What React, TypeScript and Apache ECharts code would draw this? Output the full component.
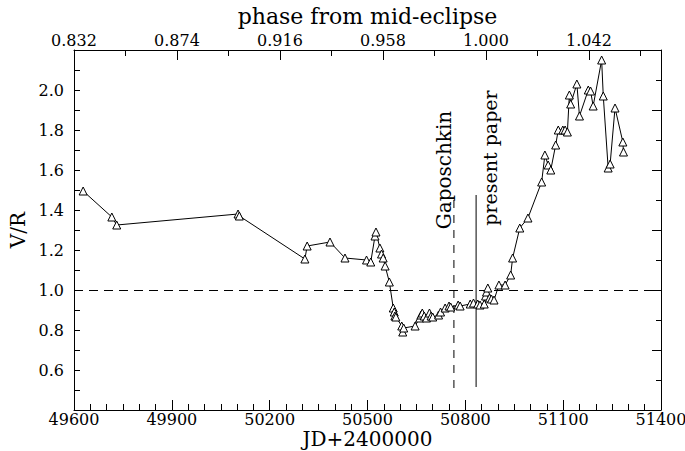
import React, { useEffect, useRef } from "react";
import * as echarts from "echarts";

// Julian dates (JD - 2400000) and V/R values
const jd: number[] = [
  49628, 49716, 49731, 50103, 50107, 50308, 50315, 50385, 50431, 50497,
  50510, 50523, 50526, 50538, 50543, 50548, 50554, 50567, 50579, 50582,
  50584, 50587, 50605, 50608, 50611, 50646, 50660, 50664, 50668, 50674,
  50681, 50690, 50695, 50700, 50718, 50724, 50738, 50750, 50755, 50778,
  50784, 50815, 50825, 50838, 50845, 50858, 50862, 50865, 50869, 50874,
  50880, 50888, 50903, 50922, 50939, 50945, 50967, 50992, 51034, 51044,
  51054, 51062, 51077, 51085, 51099, 51106, 51113, 51119, 51123, 51142,
  51150, 51177, 51184, 51192, 51218, 51223, 51238, 51244, 51259, 51283,
  51285,
];
const vr: number[] = [
  1.495, 1.365, 1.325, 1.38, 1.37, 1.155, 1.22, 1.24, 1.16, 1.15,
  1.14, 1.27, 1.29, 1.21, 1.18, 1.16, 1.12, 1.04, 0.91, 0.89,
  0.87, 0.865, 0.82, 0.79, 0.81, 0.82, 0.86, 0.875, 0.885, 0.87,
  0.86, 0.885, 0.87, 0.865, 0.875, 0.89, 0.91, 0.92, 0.915, 0.925,
  0.92, 0.93, 0.935, 0.93, 0.925, 0.93, 0.97, 0.99, 1.01, 0.96,
  0.955, 0.95, 1.025, 1.025, 1.075, 1.16, 1.31, 1.36, 1.54, 1.675,
  1.625, 1.6, 1.725, 1.8, 1.8, 1.8, 1.79, 1.975, 1.93, 2.03,
  1.87, 2.0, 1.995, 1.92, 2.15, 1.97, 1.61, 1.63, 1.91, 1.74,
  1.69,
];

// reference markers
const referenceLevel = [1.0];
const gaposchkinJD = [50765, 50765];
const gaposchkinVR = [0.51, 1.475];
const presentJD = [50833, 50833];
const presentVR = [0.515, 1.475];

// axes
const jdMin = 49600, jdMax = 51400, jdStep = 300;
const phaseMin = 0.832, phaseMax = 1.07136, phaseStep = 0.042;
const vrMin = 0.4, vrMax = 2.2;

const FONT = "DejaVu Serif";

export default function App() {
  const ref = useRef<HTMLDivElement>(null);
  useEffect(() => {
    if (!ref.current) return;
    const chart = echarts.init(ref.current, null, { renderer: "svg" });
    const black = "#000";
    const baseAxis = {
      splitLine: { show: false },
      axisLine: { show: true, lineStyle: { color: black, width: 1 } },
    };
    chart.setOption({
      animation: false,
      backgroundColor: "#fff",
      grid: {
        left: 74,
        right: 24,
        top: 50,
        bottom: 41,
        containLabel: false,
        outerBoundsMode: "none",
      },
      xAxis: [
        {
          ...baseAxis,
          type: "value",
          position: "bottom",
          min: jdMin,
          max: jdMax,
          interval: jdStep,
          axisTick: { show: true, inside: true, length: 10, lineStyle: { color: black } },
          minorTick: { show: true, splitNumber: 6, length: 6, lineStyle: { color: black } },
          minorSplitLine: { show: false },
          axisLabel: {
            color: black,
            fontFamily: FONT,
            fontSize: 16,
            lineHeight: 15,
            margin: 2,
            formatter: (v: number) => String(Math.round(v)),
          },
          name: "JD+2400000",
          nameLocation: "middle",
          nameGap: 19,
          nameMoveOverlap: false,
          nameTextStyle: { color: black, fontFamily: FONT, fontSize: 20, lineHeight: 20 },
        },
        {
          ...baseAxis,
          type: "value",
          position: "top",
          min: phaseMin,
          max: phaseMax,
          interval: phaseStep,
          axisTick: { show: true, inside: true, length: 10, lineStyle: { color: black } },
          minorTick: { show: true, splitNumber: 2, length: 6, lineStyle: { color: black } },
          axisLabel: {
            color: black,
            fontFamily: FONT,
            fontSize: 16,
            margin: 2,
            formatter: (v: number) => {
              const k = (v - phaseMin) / phaseStep;
              if (Math.abs(k - Math.round(k)) > 1e-6) return "";
              return v.toFixed(3);
            },
          },
          name: "phase from mid-eclipse",
          nameLocation: "middle",
          nameGap: 21,
          nameTextStyle: { color: black, fontFamily: FONT, fontSize: 22 },
        },
      ],
      yAxis: [
        {
          ...baseAxis,
          type: "value",
          position: "left",
          min: vrMin,
          max: vrMax,
          interval: 0.2,
          axisTick: { show: true, inside: true, length: 6, lineStyle: { color: black } },
          minorTick: { show: true, splitNumber: 2, length: 6, lineStyle: { color: black } },
          axisLabel: {
            color: black,
            fontFamily: FONT,
            fontSize: 16,
            margin: 10,
            formatter: (v: number) => (v < 0.5 || v > 2.1 ? "" : v.toFixed(1)),
          },
          name: "V/R",
          nameLocation: "middle",
          nameGap: 41,
          nameRotate: 90,
          nameTextStyle: { color: black, fontFamily: FONT, fontSize: 20 },
        },
        {
          ...baseAxis,
          type: "value",
          position: "right",
          min: vrMin,
          max: vrMax,
          interval: 0.3,
          axisTick: { show: true, inside: true, length: 9, lineStyle: { color: black } },
          minorTick: { show: true, splitNumber: 2, length: 5, lineStyle: { color: black } },
          axisLabel: { show: false },
        },
      ],
      series: [
        {
          type: "line",
          xAxisIndex: 0,
          yAxisIndex: 0,
          data: jd.map((x, i) => [x, vr[i]]),
          symbol: "triangle",
          symbolSize: 8,
          showAllSymbol: true,
          itemStyle: { color: "#fff", borderColor: black, borderWidth: 1 },
          lineStyle: { color: black, width: 1 },
          z: 5,
          markLine: {
            silent: true,
            symbol: "none",
            label: { show: false },
            lineStyle: { color: black, width: 1, type: [9, 6] },
            data: referenceLevel.map((y) => ({ yAxis: y })),
          },
        },
        {
          type: "line",
          xAxisIndex: 0,
          yAxisIndex: 0,
          data: gaposchkinJD.map((x, i) => [x, gaposchkinVR[i]]),
          symbol: "none",
          lineStyle: { color: black, width: 1, type: [8, 7] },
          z: 3,
        },
        {
          type: "line",
          xAxisIndex: 0,
          yAxisIndex: 0,
          data: presentJD.map((x, i) => [x, presentVR[i]]),
          symbol: "none",
          lineStyle: { color: black, width: 1 },
          z: 3,
        },
      ],
      graphic: [
        {
          type: "text",
          x: 444,
          y: 170,
          rotation: Math.PI / 2,
          style: {
            text: "Gaposchkin",
            fontFamily: FONT,
            fontSize: 20,
            fill: black,
            align: "center",
            verticalAlign: "middle",
          },
        },
        {
          type: "text",
          x: 490,
          y: 158,
          rotation: Math.PI / 2,
          style: {
            text: "present paper",
            fontFamily: FONT,
            fontSize: 19,
            fill: black,
            align: "center",
            verticalAlign: "middle",
          },
        },
      ],
    });
    return () => chart.dispose();
  }, []);
  return (
    <div
      ref={ref}
      style={{ position: "fixed", left: 0, top: 0, width: 685, height: 451 }}
    />
  );
}
